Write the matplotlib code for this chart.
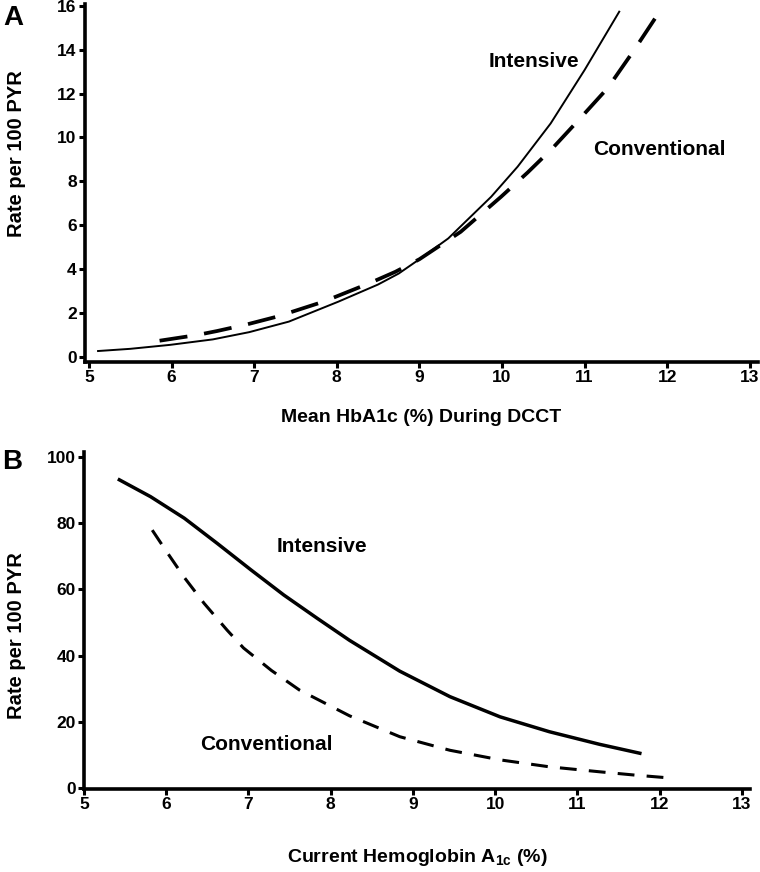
import matplotlib
matplotlib.use("Agg")
import matplotlib.pyplot as plt

plt.rcParams['font.family'] = ['Liberation Sans', 'DejaVu Sans']
plt.rcParams['font.weight'] = 'bold'
plt.rcParams['mathtext.fontset'] = 'custom'
plt.rcParams['mathtext.rm'] = 'Liberation Sans:bold'
plt.rcParams['mathtext.bf'] = 'Liberation Sans:bold'

# Panel A data (Mean HbA1c during DCCT vs rate per 100 PYR)
a_int_x = [5.11, 5.5, 5.98, 6.5, 6.94, 7.42, 8.02, 8.5, 8.75, 9.0, 9.35, 9.87, 10.19, 10.59, 11.0, 11.42]
a_int_y = [0.27, 0.37, 0.55, 0.8, 1.13, 1.61, 2.52, 3.3, 3.8, 4.45, 5.4, 7.3, 8.67, 10.64, 13.07, 15.73]
a_con_x = [5.855, 6.31, 6.55, 6.92, 7.28, 7.84, 8.39, 8.71, 9.0, 9.5, 9.99, 10.31, 10.61, 10.93, 11.28, 11.6, 11.92]
a_con_y = [0.74, 1.0, 1.18, 1.49, 1.84, 2.52, 3.35, 3.88, 4.45, 5.7, 7.3, 8.4, 9.5, 10.8, 12.25, 13.98, 15.8]

# Panel B data (Current HbA1c vs rate per 100 PYR)
b_int_x = [5.43, 5.81, 6.22, 6.62, 7.03, 7.43, 7.84, 8.23, 8.84, 9.45, 10.06, 10.66, 11.27, 11.76]
b_int_y = [93.1, 88.0, 81.5, 73.9, 65.9, 58.3, 51.2, 44.6, 35.3, 27.6, 21.5, 17.0, 13.2, 10.5]
b_con_x = [5.83, 6.01, 6.22, 6.46, 6.74, 6.94, 7.28, 7.62, 8.23, 8.84, 9.45, 10.06, 10.66, 11.27, 11.7, 12.14]
b_con_y = [77.9, 71.2, 63.6, 55.8, 47.7, 42.3, 35.5, 29.6, 21.8, 15.5, 11.4, 8.5, 6.4, 4.9, 3.9, 3.0]

x_ticks = [5, 6, 7, 8, 9, 10, 11, 12, 13]
a_y_ticks = [0, 2, 4, 6, 8, 10, 12, 14, 16]
b_y_ticks = [0, 20, 40, 60, 80, 100]

W, H = 760, 872
fig = plt.figure(figsize=(W / 100, H / 100), dpi=100)

def style(ax):
    for s in ['top', 'right']:
        ax.spines[s].set_visible(False)
    for s in ['left', 'bottom']:
        ax.spines[s].set_linewidth(2.6)
    ax.tick_params(width=2.2, length=4, labelsize=12.5, pad=2)
    for lab in ax.get_xticklabels() + ax.get_yticklabels():
        lab.set_fontweight('bold')

# ---- Panel A ----
axA = fig.add_axes([85 / W, 1 - 362 / H, 673 / W, 358 / H])
axA.plot(a_int_x, a_int_y, color='black', lw=1.4)
axA.plot(a_con_x, a_con_y, color='black', lw=2.7, dashes=(7.5, 4.5))
axA.set_xlim(4.952, 13.1)
axA.set_ylim(-0.23, 16.08)
axA.set_xticks(x_ticks)
axA.set_yticks(a_y_ticks)
style(axA)
axA.set_xlabel('Mean HbA1c (%) During DCCT', fontsize=14, fontweight='bold', labelpad=17)
axA.set_ylabel('Rate per 100 PYR', fontsize=14.5, fontweight='bold')
axA.yaxis.set_label_coords(-0.087, 0.581)
axA.text(10.39, 13.47, 'Intensive', fontsize=15, fontweight='bold', ha='center', va='center')
axA.text(11.91, 9.45, 'Conventional', fontsize=15, fontweight='bold', ha='center', va='center')
fig.text(13 / W, 1 - 18 / H, 'A', fontsize=20, fontweight='bold', ha='center', va='center')

# ---- Panel B ----
axB = fig.add_axes([84 / W, 1 - 789 / H, 666 / W, 337 / H])
axB.plot(b_int_x, b_int_y, color='black', lw=2.5)
axB.plot(b_con_x, b_con_y, color='black', lw=2.2, dashes=(5.5, 4.0))
axB.set_xlim(5.0, 13.1)
axB.set_ylim(-0.3, 101.5)
axB.set_xticks(x_ticks)
axB.set_yticks(b_y_ticks)
style(axB)
axB.set_xlabel(r'Current Hemoglobin A$_{\mathbf{1c}}$ (%)', fontsize=14, fontweight='bold', labelpad=25)
axB.set_ylabel('Rate per 100 PYR', fontsize=14.5, fontweight='bold')
axB.yaxis.set_label_coords(-0.087, 0.454)
axB.text(7.89, 73, 'Intensive', fontsize=15, fontweight='bold', ha='center', va='center')
axB.text(7.22, 13, 'Conventional', fontsize=15, fontweight='bold', ha='center', va='center')
fig.text(12 / W, 1 - 462 / H, 'B', fontsize=20, fontweight='bold', ha='center', va='center')

fig.savefig('out.png', dpi=100)
